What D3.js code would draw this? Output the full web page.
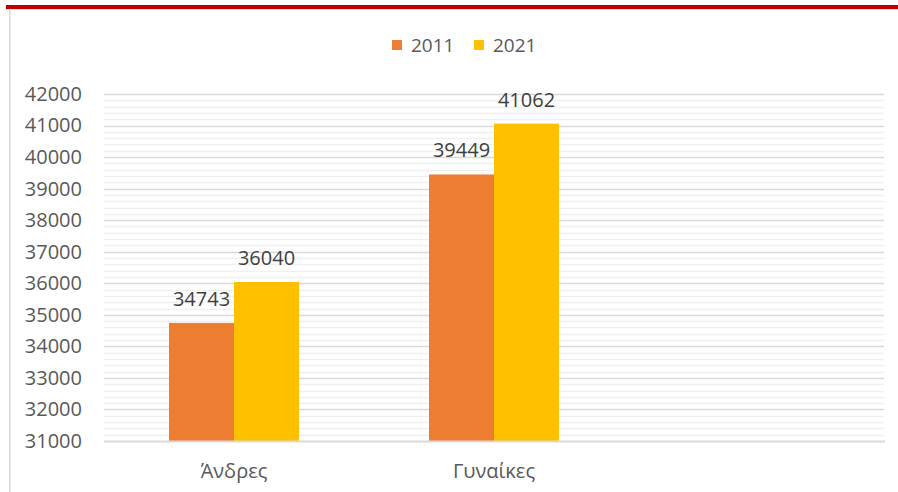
<!DOCTYPE html>
<html>
<head>
<meta charset="utf-8">
<script src="https://cdn.jsdelivr.net/npm/d3@7"></script>
<style>
  html, body { margin: 0; padding: 0; background: #fff; }
  svg { display: block; font-family: "Open Sans", "Noto Sans", sans-serif; }
</style>
</head>
<body>
<svg id="chart" width="898" height="492"></svg>
<script>
const categories = ["Άνδρες", "Γυναίκες", ""];
const seriesNames = ["2011", "2021"];
const values2011 = [34743, 39449, null];
const values2021 = [36040, 41062, null];
const yTicks = [31000, 32000, 33000, 34000, 35000, 36000, 37000, 38000, 39000, 40000, 41000, 42000];
const colors = ["#ED7D31", "#FFC000"];

const svg = d3.select("#chart");
const W = 898, H = 492;
const margin = { left: 104, right: 14, top: 94, bottom: 51 };

// frame
svg.append("rect").attr("x", 6).attr("y", 5).attr("width", W - 6).attr("height", 4).attr("fill", "#C00000");
svg.append("rect").attr("x", 6).attr("y", 9).attr("width", W - 6).attr("height", 1).attr("fill", "#f3d6d6");
svg.append("rect").attr("x", 9).attr("y", 10).attr("width", 1.5).attr("height", H - 10).attr("fill", "#d9d9d9");

const x = d3.scaleBand().domain(categories).range([margin.left, W - margin.right]);
const y = d3.scaleLinear().domain([31000, 42000]).range([H - margin.bottom, margin.top]);

// minor grid
const minor = d3.range(31200, 42000, 200).filter(v => v % 1000 !== 0);
svg.append("g").selectAll("line").data(minor).join("line")
  .attr("x1", margin.left).attr("x2", W - margin.right)
  .attr("y1", d => Math.round(y(d)) + 0.5).attr("y2", d => Math.round(y(d)) + 0.5)
  .attr("stroke", "#f0f0f0").attr("stroke-width", 1.5);

// major grid
svg.append("g").selectAll("line").data(yTicks.filter(v => v !== 31000)).join("line")
  .attr("x1", margin.left).attr("x2", W - margin.right)
  .attr("y1", d => Math.round(y(d)) + 0.5).attr("y2", d => Math.round(y(d)) + 0.5)
  .attr("stroke", "#d9d9d9").attr("stroke-width", 1.5);

// y axis labels
const yAxis = d3.axisLeft(y).tickValues(yTicks).tickSize(0).tickPadding(22).tickFormat(d3.format("d"));
const ga = svg.append("g").attr("transform", `translate(${margin.left},0)`).call(yAxis);
ga.select(".domain").remove();
ga.selectAll("text").attr("fill", "#595959").style("font-size", "20px").style("font-family", '"Open Sans", sans-serif');

// bars
const sub = d3.scaleBand().domain(seriesNames).range([0, x.bandwidth()]).paddingOuter(1).paddingInner(0);
const seriesVals = [values2011, values2021];
const data = [];
categories.forEach((c, i) => seriesNames.forEach((s, j) => {
  if (seriesVals[j][i] != null) data.push({ c, s, v: seriesVals[j][i], col: colors[j] });
}));
const gb = svg.append("g");
gb.selectAll("rect").data(data).join("rect")
  .attr("x", d => x(d.c) + sub(d.s))
  .attr("width", sub.bandwidth())
  .attr("y", d => y(d.v))
  .attr("height", d => y(31000) - y(d.v))
  .attr("fill", d => d.col);

gb.selectAll("text").data(data).join("text")
  .attr("x", d => x(d.c) + sub(d.s) + sub.bandwidth() / 2)
  .attr("y", d => y(d.v) - 17)
  .attr("text-anchor", "middle")
  .attr("fill", "#404040")
  .style("font-size", "20px")
  .text(d => d.v);

// x axis baseline
svg.append("line")
  .attr("x1", margin.left).attr("x2", W - margin.right + 1)
  .attr("y1", Math.round(y(31000)) + 0.5).attr("y2", Math.round(y(31000)) + 0.5)
  .attr("stroke", "#d9d9d9").attr("stroke-width", 2);

// x labels
const xAxis = d3.axisBottom(x).tickSize(0).tickPadding(23);
const gx = svg.append("g").attr("transform", `translate(0,${y(31000)})`).call(xAxis);
gx.select(".domain").remove();
gx.selectAll("text").attr("fill", "#595959").style("font-size", "20px").style("font-family", '"Open Sans", sans-serif');

// legend
const leg = svg.append("g");
const legX = [392, 474];
seriesNames.forEach((s, i) => {
  leg.append("rect").attr("x", legX[i]).attr("y", 40).attr("width", 10).attr("height", 10).attr("fill", colors[i]);
  leg.append("text").attr("x", legX[i] + 19).attr("y", 52).attr("fill", "#595959")
    .style("font-size", "19px").text(s);
});
</script>
</body>
</html>
